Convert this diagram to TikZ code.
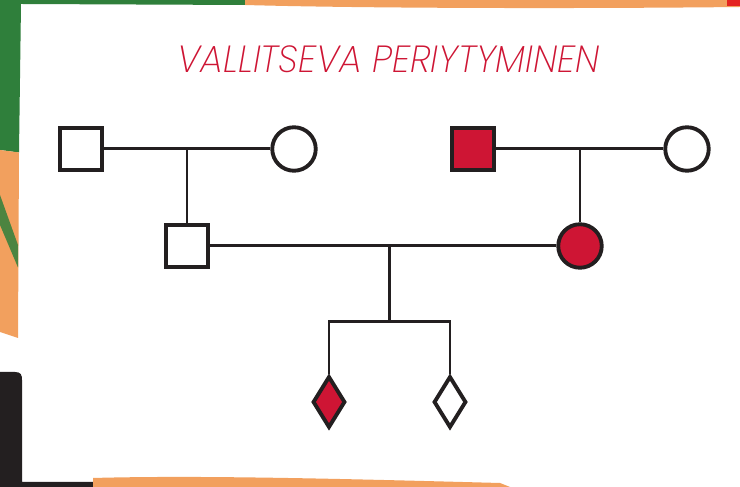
\documentclass[tikz,border=0pt]{standalone}
\usepackage{fontspec}
\newfontfamily\titlefont[FakeStretch=0.96]{Poppins ExtraLight Italic}
\usetikzlibrary{shapes.geometric,positioning,calc}

\definecolor{pedred}{HTML}{CE1534}
\definecolor{pedline}{HTML}{231F20}
\definecolor{edgeorange}{HTML}{F2A05E}
\definecolor{edgegreen}{HTML}{2F7F3B}
\definecolor{edgered}{HTML}{E42320}

\begin{document}
\begin{tikzpicture}
[
  male/.style={rectangle,draw=pedline,line width=2.2pt,fill=white,minimum size=0.84cm,inner sep=0pt},
  female/.style={circle,draw=pedline,line width=2.2pt,fill=white,minimum size=0.87cm,inner sep=0pt},
  unknown/.style={diamond,draw=pedline,line width=2.2pt,fill=white,minimum width=0.65cm,minimum height=1.03cm,inner sep=0pt},
  affected/.style={fill=pedred},
  line/.style={draw=pedline,line width=1.7pt},
  on grid
]
 % torn page edges
 \fill[white] (0,0) rectangle (14.8,-9.74);
 \fill[edgegreen] (0,0) -- (5,0) -- (4.95,-0.1) -- (0.42,-0.08) -- (0.38,-3.05) -- (0,-3.0) -- cycle;
 \fill[edgeorange] (4.9,0) -- (14.8,0) -- (14.8,-0.14) .. controls (11,-0.18) and (7,-0.16) .. (4.9,-0.1) -- cycle;
 \fill[edgered] (14.54,0) rectangle (14.8,-0.12);
 \fill[edgeorange] (0,-3.0) -- (0.38,-3.05) -- (0.36,-6.76) -- (0,-6.64) -- cycle;
 \fill[edgegreen!85!edgeorange] (0,-3.9) -- (0.36,-4.9) -- (0.36,-5.35) -- (0,-4.5) -- cycle;
 \fill[pedline] (0,-7.44) -- (0.3,-7.44) .. controls (0.42,-7.44) and (0.44,-7.5) .. (0.44,-7.6)
   -- (0.44,-9.64) -- (1.9,-9.64) -- (1.9,-9.74) -- (0,-9.74) -- cycle;
 \fill[edgeorange] (1.86,-9.74) -- (1.86,-9.56) .. controls (4,-9.5) and (7,-9.58) .. (10,-9.66) -- (10.2,-9.74) -- cycle;

 \node[text=pedred,font=\titlefont\fontsize{21.5}{26}\selectfont] (title) at (7.77,-1.18) {VALLITSEVA PERIYTYMINEN};

 \node[male] (gf1) at (1.62,-2.98) {};
 \node[female] (gm1) [right=4.26cm of gf1] {};
 \node[male,affected] (gf2) [right=7.84cm of gf1] {};
 \node[female] (gm2) [right=4.28cm of gf2] {};
 \node[male] (fa) [below right=1.94cm and 2.12cm of gf1] {};
 \node[female,affected] (mo) [below right=1.94cm and 2.14cm of gf2] {};
 \node[unknown,affected] (ch1) [below right=3.12cm and 2.84cm of fa] {};
 \node[unknown] (ch2) [right=2.42cm of ch1] {};

 \coordinate (m1) at (fa |- gf1);
 \coordinate (m2) at (mo |- gf2);
 \coordinate (m3) at ($(fa)!0.514!(mo)$);
 \coordinate (sib) at ($(m3)+(0,-1.52)$);

 \draw[line] (gf1) -- (gm1);
 \draw[line] (gf2) -- (gm2);
 \draw[line] (fa) -- (mo);
 \draw[line] (fa) -- (m1);
 \draw[line] (mo) -- (m2);
 \draw[line] (m3) -- (sib);
 \draw[line] (ch1) |- (sib) -| (ch2);
\end{tikzpicture}
\end{document}
